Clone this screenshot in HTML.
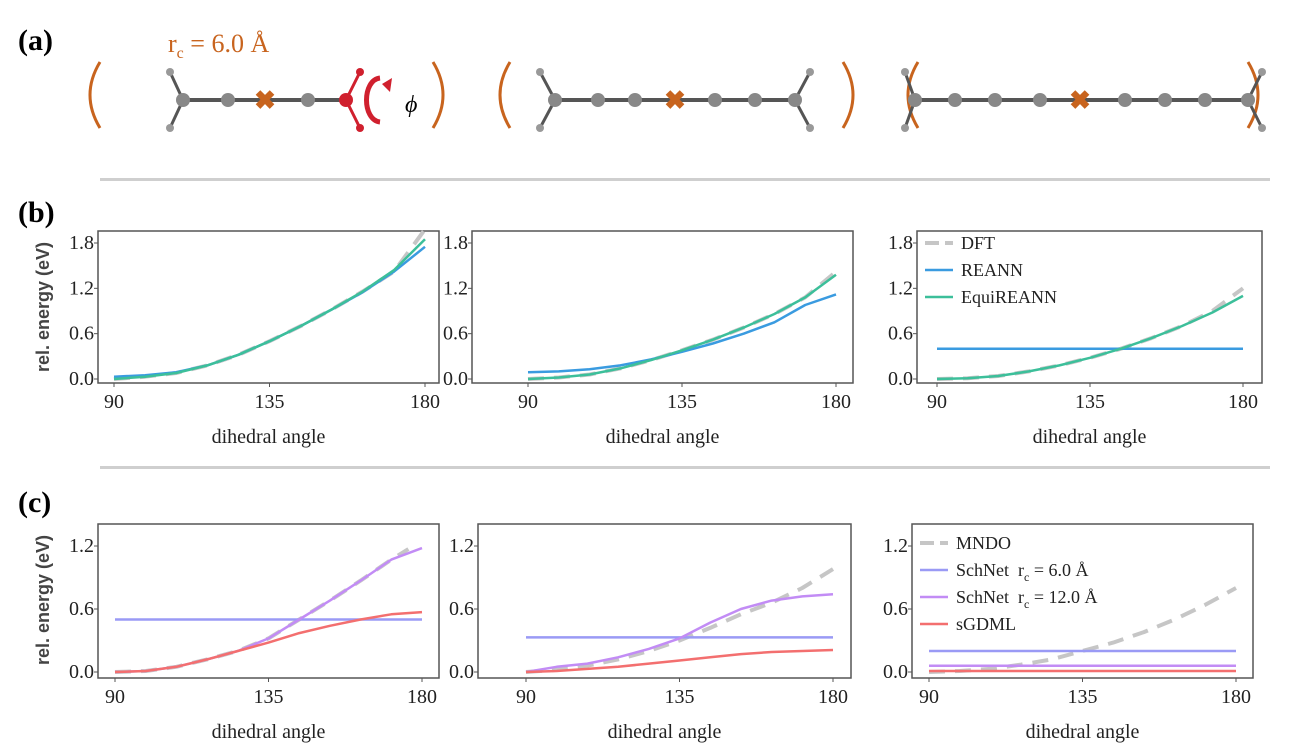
<!DOCTYPE html>
<html><head><meta charset="utf-8"><style>
body{margin:0;background:#fff;}
svg{display:block;font-family:"Liberation Serif",serif;}
</style></head><body>
<svg id="fig" width="1298" height="745" viewBox="0 0 1298 745">
<g>
<text x="18" y="50" font-size="30" font-weight="bold">(a)</text>
<text x="168" y="52" font-size="26" fill="#c8641e">r<tspan font-size="16" dy="6">c</tspan><tspan dy="-6"> = 6.0 Å</tspan></text>
<g fill="none" stroke="#c8641e" stroke-width="3">
<path d="M100 62 Q80 95 100 128"/><path d="M433 62 Q453 95 433 128"/>
<path d="M510 62 Q490 95 510 128"/><path d="M843 62 Q863 95 843 128"/>
<path d="M918 62 Q898 95 918 128"/><path d="M1248 62 Q1268 95 1248 128"/>
</g>
<g id="mols"></g>
<path d="M380 78 C362 80 362 120 380 122" fill="none" stroke="#d0202e" stroke-width="5"/>
<path d="M382 84 L392 78 L390 92 Z" fill="#d0202e"/>
<text x="405" y="112" font-size="24" font-style="italic">ϕ</text>
</g>
<rect x="100" y="178" width="1170" height="3" fill="#cfcfcf"/>
<rect x="100" y="466" width="1170" height="3" fill="#cfcfcf"/>
<text x="18" y="222" font-size="30" font-weight="bold">(b)</text>
<text x="18" y="512" font-size="30" font-weight="bold">(c)</text>
<g id="plots"></g>
</svg>
<script>
const NS="http://www.w3.org/2000/svg";
function mk(tag,attrs,parent){const e=document.createElementNS(NS,tag);for(const k in attrs)e.setAttribute(k,attrs[k]);parent.appendChild(e);return e;}
const mols=document.getElementById('mols');
function molecule(xs,y,xi,redLast,hx0,hx1){
  const g=mk('g',{},mols);
  
  
  mk('line',{x1:xs[0],y1:y,x2:xs[xs.length-1],y2:y,stroke:'#555',"stroke-width":4},g);
  [[hx0,-1],[hx1,1]].forEach(([hx,d],i)=>{
    const red=(i==1&&redLast);const c=red?'#d0202e':'#555';
    const xe=i==0?xs[0]:xs[xs.length-1];
    mk('line',{x1:xe,y1:y,x2:hx,y2:y-28,stroke:c,"stroke-width":3},g);
    mk('line',{x1:xe,y1:y,x2:hx,y2:y+28,stroke:c,"stroke-width":3},g);
    mk('circle',{cx:hx,cy:y-28,r:4,fill:red?'#d0202e':'#999'},g);
    mk('circle',{cx:hx,cy:y+28,r:4,fill:red?'#d0202e':'#999'},g);
  });
  xs.forEach((x,i)=>{const red=redLast&&i==xs.length-1;mk('circle',{cx:x,cy:y,r:7,fill:red?'#d0202e':'#888'},g);});
  mk('text',{x:xi,y:y+9,"font-size":26,"font-weight":"bold",fill:'#c8641e',"text-anchor":"middle"},g).textContent='✖';
}
molecule([183,228,308,346],100,265,true,170,360);
molecule([555,598,635,715,755,795],100,675,false,540,810);
molecule([915,955,995,1040,1125,1165,1205,1248],100,1080,false,905,1262);

const X=[90,99,108,117,126,135,144,153,162,171,180];
const b1_dft=[0,0.03,0.08,0.18,0.32,0.5,0.7,0.92,1.16,1.42,1.98];
const b1_reann=[0.03,0.05,0.09,0.18,0.32,0.5,0.7,0.92,1.15,1.42,1.75];
const b1_equi=[0,0.03,0.08,0.18,0.32,0.5,0.7,0.92,1.16,1.44,1.85];
const b2_dft=[0,0.02,0.06,0.14,0.25,0.38,0.52,0.68,0.86,1.08,1.42];
const b2_reann=[0.09,0.1,0.13,0.18,0.26,0.36,0.47,0.6,0.75,0.98,1.12];
const b2_equi=[0,0.02,0.06,0.14,0.25,0.38,0.52,0.68,0.86,1.08,1.38];
const b3_dft=[0,0.01,0.04,0.1,0.18,0.28,0.4,0.54,0.7,0.9,1.2];
const b3_reann=[0.4,0.4,0.4,0.4,0.4,0.4,0.4,0.4,0.4,0.4,0.4];
const b3_equi=[0,0.01,0.04,0.1,0.18,0.28,0.4,0.54,0.7,0.88,1.1];
const c1_mndo=[0,0.01,0.05,0.12,0.2,0.32,0.5,0.68,0.87,1.07,1.17];
const c1_mndo_x=[90,99,108,117,126,135,144,153,162,171,176];
const c1_s6=[0.5,0.5,0.5,0.5,0.5,0.5,0.5,0.5,0.5,0.5,0.5];
const c1_s12=[0,0.01,0.05,0.12,0.2,0.32,0.5,0.68,0.87,1.07,1.18];
const c1_sg=[0,0.01,0.05,0.12,0.2,0.28,0.37,0.44,0.5,0.55,0.57];
const c2_mndo=[0,0.02,0.06,0.12,0.2,0.3,0.42,0.55,0.66,0.8,0.98];
const c2_s6=[0.33,0.33,0.33,0.33,0.33,0.33,0.33,0.33,0.33,0.33,0.33];
const c2_s12=[0,0.05,0.08,0.14,0.22,0.32,0.47,0.6,0.68,0.72,0.74];
const c2_sg=[0,0.01,0.03,0.05,0.08,0.11,0.14,0.17,0.19,0.2,0.21];
const c3_mndo=[0,0.01,0.03,0.07,0.12,0.2,0.28,0.38,0.5,0.64,0.8];
const c3_s6=[0.2,0.2,0.2,0.2,0.2,0.2,0.2,0.2,0.2,0.2,0.2];
const c3_s12=[0.06,0.06,0.06,0.06,0.06,0.06,0.06,0.06,0.06,0.06,0.06];
const c3_sg=[0.01,0.01,0.01,0.01,0.01,0.01,0.01,0.01,0.01,0.01,0.01];
const xTicks=[90,135,180];
const yTicksB=[0,0.6,1.2,1.8];
const yTicksC=[0,0.6,1.2];

const C={dft:'#c6c6c6',reann:'#3a9be0',equi:'#3cbf9a',s6:'#9a9af5',s12:'#c28cf5',sg:'#f36f6f'};
const plots=document.getElementById('plots');
function plot(p){
  const g=mk('g',{},plots);
  
  
  const sx=v=>p.x90+(v-90)/90*(p.x180-p.x90);
  const sy=v=>p.y0-v/p.ymax*(p.y0-p.ym);
  const frame=mk('rect',{x:p.l,y:p.t,width:p.r-p.l,height:p.b-p.t,fill:'none',stroke:'#555','stroke-width':1.5},g);
  
  
  xTicks.forEach(v=>{mk('line',{x1:sx(v),x2:sx(v),y1:p.b,y2:p.b+4,stroke:'#555'},g);
    const t=mk('text',{x:sx(v),y:p.b+25,'font-size':20,'text-anchor':'middle',fill:'#222'},g);t.textContent=v;
    
    });
  p.yt.forEach(v=>{mk('line',{x1:p.l-4,x2:p.l,y1:sy(v),y2:sy(v),stroke:'#555'},g);
    const t=mk('text',{x:p.l-4,y:sy(v)+6,'font-size':20,'text-anchor':'end',fill:'#222'},g);t.textContent=v.toFixed(1);
    
    });
  const xl=mk('text',{x:(p.l+p.r)/2,y:p.b+60,'font-size':20,'text-anchor':'middle',fill:'#222'},g);xl.textContent='dihedral angle';
  
  
  p.series.forEach(s=>{
    const xs=s.x||X;
    const pts=s.v.map((v,i)=>sx(xs[i]).toFixed(1)+','+sy(v).toFixed(1)).join(' ');
    const pl=mk('polyline',{points:pts,fill:'none',stroke:C[s.c],'stroke-width':s.dash?4:2.5,'stroke-dasharray':s.dash?'16,10':'none','stroke-linejoin':'round'},g);
    
    
  });
  if(p.legend){p.legend.forEach((e,i)=>{
    const y=p.ly+i*p.ld;
    mk('line',{x1:p.lx,x2:p.lx+28,y1:y,y2:y,stroke:C[e.c],'stroke-width':e.dash?4:2.5,'stroke-dasharray':e.dash?'14,6':'none'},g);
    const t=mk('text',{x:p.lx+36,y:y+6,'font-size':18,fill:'#222'},g);t.innerHTML=e.t;
    
    
  });}
}
const bT=231,bB=383,by0=379,bym=243;
const cT=524,cB=678,cy0=672,cym=546;
plot({name:'plot-b1',l:98,r:439,t:bT,b:bB,x90:114,x180:425,y0:by0,ym:bym,ymax:1.8,yt:yTicksB,
 series:[{v:b1_dft,c:'dft',dash:1,n:'dft-line'},{v:b1_reann,c:'reann',n:'reann-line'},{v:b1_equi,c:'equi',n:'equireann-line'}]});
plot({name:'plot-b2',l:472,r:853,t:bT,b:bB,x90:528,x180:836,y0:by0,ym:bym,ymax:1.8,yt:yTicksB,
 series:[{v:b2_dft,c:'dft',dash:1,n:'dft-line'},{v:b2_reann,c:'reann',n:'reann-line'},{v:b2_equi,c:'equi',n:'equireann-line'}]});
plot({name:'plot-b3',l:917,r:1262,t:bT,b:bB,x90:937,x180:1243,y0:by0,ym:bym,ymax:1.8,yt:yTicksB,
 series:[{v:b3_dft,c:'dft',dash:1,n:'dft-line'},{v:b3_reann,c:'reann',n:'reann-line'},{v:b3_equi,c:'equi',n:'equireann-line'}],
 legend:[{t:'DFT',c:'dft',dash:1},{t:'REANN',c:'reann'},{t:'EquiREANN',c:'equi'}],lx:925,ly:243,ld:27});
plot({name:'plot-c1',l:98,r:439,t:cT,b:cB,x90:115,x180:422,y0:cy0,ym:cym,ymax:1.2,yt:yTicksC,
 series:[{v:c1_mndo,c:'dft',dash:1,n:'mndo-line',x:c1_mndo_x},{v:c1_s6,c:'s6',n:'schnet-6-line'},{v:c1_s12,c:'s12',n:'schnet-12-line'},{v:c1_sg,c:'sg',n:'sgdml-line'}]});
plot({name:'plot-c2',l:478,r:851,t:cT,b:cB,x90:526,x180:833,y0:cy0,ym:cym,ymax:1.2,yt:yTicksC,
 series:[{v:c2_mndo,c:'dft',dash:1,n:'mndo-line'},{v:c2_s6,c:'s6',n:'schnet-6-line'},{v:c2_s12,c:'s12',n:'schnet-12-line'},{v:c2_sg,c:'sg',n:'sgdml-line'}]});
plot({name:'plot-c3',l:912,r:1253,t:cT,b:cB,x90:929,x180:1236,y0:cy0,ym:cym,ymax:1.2,yt:yTicksC,
 series:[{v:c3_mndo,c:'dft',dash:1,n:'mndo-line'},{v:c3_s6,c:'s6',n:'schnet-6-line'},{v:c3_s12,c:'s12',n:'schnet-12-line'},{v:c3_sg,c:'sg',n:'sgdml-line'}],
 legend:[{t:'MNDO',c:'dft',dash:1},{t:'SchNet&#160; r<tspan font-size="12" dy="5">c</tspan><tspan dy="-5"> = 6.0 Å</tspan>',c:'s6'},{t:'SchNet&#160; r<tspan font-size="12" dy="5">c</tspan><tspan dy="-5"> = 12.0 Å</tspan>',c:'s12'},{t:'sGDML',c:'sg'}],lx:920,ly:543,ld:27});
[[307,'y-axis-title-b'],[600,'y-axis-title-c']].forEach(([cy,n])=>{
  const t=mk('text',{x:0,y:0,transform:`translate(49 ${cy}) rotate(-90)`,'text-anchor':'middle','font-size':18,'font-weight':'bold','font-family':'Liberation Sans, sans-serif',fill:'#444'},plots);
  t.textContent='rel. energy (eV)';
  
  
});
</script>
</body></html>
